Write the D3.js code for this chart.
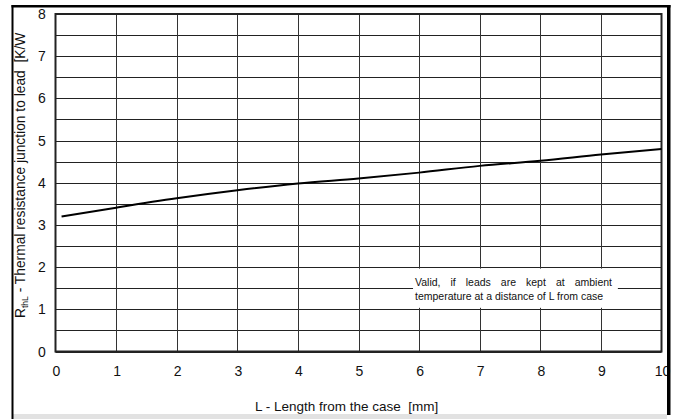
<!DOCTYPE html>
<html>
<head>
<meta charset="utf-8">
<script src="https://d3js.org/d3.v7.min.js"></script>
<style>
  body { margin: 0; background: #fff; }
  svg text { font-family: "Liberation Sans", Arial, sans-serif; fill: #111; white-space: pre; }
</style>
</head>
<body>
<div id="chart"></div>
<script>
// values
const lengths = [0.1, 1, 2, 3, 4, 5, 6, 7, 8, 9, 10];
const resistance = [3.2, 3.41, 3.63, 3.82, 3.98, 4.1, 4.24, 4.4, 4.52, 4.67, 4.8];
const xTicks = [0, 1, 2, 3, 4, 5, 6, 7, 8, 9, 10];
const yTicks = [0, 1, 2, 3, 4, 5, 6, 7, 8];
const yGrid = d3.range(0, 8.01, 0.5);

const width = 674, height = 419;
const margin = { left: 55.5, right: 12.5, top: 14, bottom: 67.5 };

const svg = d3.select("#chart")
    .append("svg")
    .attr("width", width)
    .attr("height", height);

const x = d3.scaleLinear().domain([0, 10]).range([margin.left, width - margin.right]);
const y = d3.scaleLinear().domain([0, 8]).range([height - margin.bottom, margin.top]);

// grid
svg.append("g").selectAll("line")
    .data(yGrid)
    .enter().append("line")
    .attr("x1", x(0)).attr("x2", x(10))
    .attr("y1", d => Math.round(y(d)) + 0.5).attr("y2", d => Math.round(y(d)) + 0.5)
    .attr("stroke", "#222").attr("stroke-width", 1);

svg.append("g").selectAll("line")
    .data(xTicks.slice(1, -1))
    .enter().append("line")
    .attr("x1", d => Math.round(x(d)) + 0.5).attr("x2", d => Math.round(x(d)) + 0.5)
    .attr("y1", y(8)).attr("y2", y(0))
    .attr("stroke", "#333").attr("stroke-width", 1);

// note box, blanks the grid behind it
svg.append("rect")
    .attr("x", x(5.9)).attr("y", y(2) + 1.5)
    .attr("width", x(9.28) - x(5.9)).attr("height", y(1) - y(2) - 3)
    .attr("fill", "#fff");

const note = svg.append("g").attr("font-size", 10.5);
const words = ["Valid,", "if", "leads", "are", "kept", "at", "ambient"];
// justified first line
const left = 415, right = 612;
const tmp = note.append("text").attr("visibility", "hidden");
const widths = words.map(w => { tmp.text(w); return tmp.node().getComputedTextLength(); });
tmp.remove();
const gap = (right - left - d3.sum(widths)) / (words.length - 1);
let cx = left;
words.forEach((w, i) => {
    note.append("text").attr("x", cx).attr("y", 286).text(w);
    cx += widths[i] + gap;
});
note.append("text").attr("x", left).attr("y", 300)
    .text("temperature at a distance of L from case");

// plot frame
svg.append("rect")
    .attr("x", x(0)).attr("y", y(8))
    .attr("width", x(10) - x(0)).attr("height", y(0) - y(8))
    .attr("fill", "none").attr("stroke", "#222").attr("stroke-width", 2);

// curve
const line = d3.line()
    .x((d, i) => x(lengths[i]))
    .y(d => y(d))
    .curve(d3.curveMonotoneX);

svg.append("path")
    .datum(resistance)
    .attr("d", line)
    .attr("fill", "none")
    .attr("stroke", "#000")
    .attr("stroke-width", 2);

// tick labels
svg.append("g").selectAll("text")
    .data(yTicks)
    .enter().append("text")
    .attr("x", 42).attr("y", d => y(d) + 5)
    .attr("text-anchor", "middle")
    .attr("font-size", 14)
    .text(d => d);

svg.append("g").selectAll("text")
    .data(xTicks)
    .enter().append("text")
    .attr("x", d => x(d) + 1).attr("y", 376)
    .attr("text-anchor", "middle")
    .attr("font-size", 14)
    .text(d => d);

// axis titles
svg.append("text")
    .attr("x", 255).attr("y", 411)
    .attr("font-size", 13.5)
    .text("L - Length from the case  [mm]");

const yt = svg.append("text")
    .attr("transform", "translate(25,318) rotate(-90)")
    .attr("font-size", 13.8);
yt.append("tspan").text("R");
yt.append("tspan").attr("font-size", 8.5).attr("dy", 3).text("thL");
yt.append("tspan").attr("dy", -3).text(" - Thermal resistance junction to lead  [K/W");

// outer frame and bottom strip
svg.append("rect")
    .attr("x", 13).attr("y", 414).attr("width", 654).attr("height", 5)
    .attr("fill", "#e2e2e2");
svg.append("rect").attr("x", 11.5).attr("y", 5).attr("width", 2).attr("height", 414).attr("fill", "#000");
svg.append("rect").attr("x", 11.5).attr("y", 5).attr("width", 659).attr("height", 2.5).attr("fill", "#000");
svg.append("rect").attr("x", 667).attr("y", 5).attr("width", 3.5).attr("height", 410).attr("fill", "#000");
</script>
</body>
</html>
